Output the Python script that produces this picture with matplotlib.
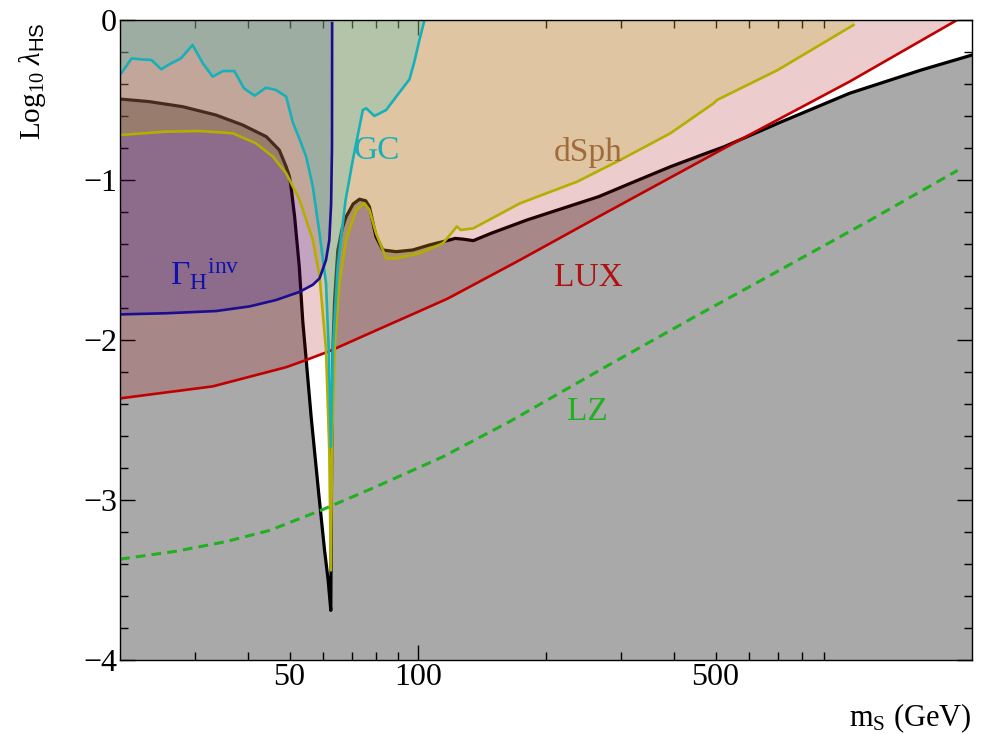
import numpy as np
import matplotlib
matplotlib.use("Agg")
import matplotlib.pyplot as plt
from matplotlib.ticker import FixedLocator, FixedFormatter, NullFormatter

# ---------------- data ----------------
# relic-density curve (black), gray region below it
relic_m = [20, 23.4, 28.1, 33.6, 38.8, 44.1, 47.3, 49.1, 50.0, 50.4, 51.4, 52.7, 53.7,
           54.7, 56.2, 58.5, 60.4, 61.6, 62.5, 62.6, 62.8, 63.2, 63.8, 64.9, 66.5, 67.9,
           70.5, 73.0, 75.5, 77.0, 79.8, 82.8, 89.0, 97.3, 106.5, 118.7, 122.4, 128.0,
           135.0, 148.7, 180.4, 219.0, 265.9, 322.7, 391.7, 475.3, 523.7, 700.0, 1032.0,
           1520.0, 2000.0]
relic_y = [-0.494, -0.51, -0.542, -0.594, -0.656, -0.729, -0.8125, -0.917, -0.98, -1.04,
           -1.23, -1.54, -1.88, -2.12, -2.48, -2.95, -3.31, -3.50, -3.69, -3.3, -2.69,
           -2.06, -1.75, -1.44, -1.30, -1.23, -1.15, -1.12, -1.13, -1.167, -1.354,
           -1.4375, -1.448, -1.4375, -1.406, -1.375, -1.365, -1.37, -1.379, -1.333,
           -1.25, -1.177, -1.104, -1.01, -0.917, -0.833, -0.792, -0.646, -0.458,
           -0.3125, -0.219]

# LUX (red)
lux_m = [20, 33.0, 49.1, 54.7, 62.0, 79.8, 100.9, 117.8, 173.7, 265.9, 523.7, 1032.0, 1845.0]
lux_y = [-2.365, -2.29, -2.17, -2.125, -2.07, -1.94, -1.82, -1.74, -1.5, -1.229, -0.802,
         -0.385, 0.0]

# LZ projection (green dashed)
lz_m = [20, 27.1, 35.5, 44.9, 59.8, 79.8, 114.5, 164.3, 272.0, 440.0, 700.0, 1137.0, 1850.0]
lz_y = [-3.37, -3.32, -3.26, -3.19, -3.06, -2.917, -2.73, -2.51, -2.177, -1.865, -1.57,
        -1.26, -0.94]

# dwarf spheroidals (yellow)
ds_m = [20, 25.6, 30.7, 36.8, 41.7, 45.7, 49.1, 52.8, 56.7, 58.8, 60.9, 62.0, 62.5, 63.0,
        63.8, 65.5, 67.9, 71.7, 75.0, 77.0, 79.8, 84.3, 89.0, 100.9, 114.5, 123.6, 126.2,
        135.0, 173.7, 236.9, 298.6, 391.7, 494.6, 504.0, 700.0, 1054.0]
ds_y = [-0.719, -0.698, -0.694, -0.708, -0.771, -0.854, -0.958, -1.125, -1.375, -1.6,
        -2.06, -2.7, -3.44, -2.6, -2.06, -1.646, -1.375, -1.1875, -1.146, -1.1875, -1.333,
        -1.49, -1.49, -1.458, -1.396, -1.29, -1.3125, -1.302, -1.146, -1.01, -0.875,
        -0.708, -0.521, -0.5, -0.3125, -0.031]

# Galactic centre (cyan)
gc_m = [20, 21.3, 22.4, 23.7, 25.0, 26.2, 27.8, 29.6, 31.3, 33.0, 34.9, 37.1, 39.1, 41.4,
        44.0, 46.5, 49.1, 50.9, 52.7, 54.7, 56.7, 58.8, 60.9, 61.8, 62.5, 63.2, 64.9,
        67.7, 70.4, 74.3, 75.7, 79.1, 84.3, 89.0, 95.6, 98.2, 100.9, 103.7]
gc_y = [-0.344, -0.24, -0.246, -0.25, -0.308, -0.275, -0.24, -0.156, -0.271, -0.354,
        -0.319, -0.319, -0.427, -0.473, -0.423, -0.4375, -0.479, -0.64, -0.74, -0.854,
        -1.04, -1.333, -1.646, -2.06, -2.667, -2.06, -1.54, -1.125, -0.875, -0.5625,
        -0.552, -0.6, -0.5625, -0.479, -0.371, -0.26, -0.125, 0.0]

# invisible Higgs width (blue)
gam_m = [20, 25.6, 33.6, 40.3, 46.5, 52.7, 56.7, 58.8, 60.9, 62.0, 62.6, 62.9, 62.95]
gam_y = [-1.84, -1.833, -1.819, -1.79, -1.75, -1.70, -1.655, -1.615, -1.5, -1.375, -1.15,
         -0.8, -0.02]

x_major = [100]
x_minor = [30, 40, 50, 60, 70, 80, 90, 200, 300, 400, 500, 600, 700, 800, 900]
x_minor_labels = ["", "", "50", "", "", "", "", "", "", "", "500", "", "", "", ""]
y_major = [0, -1, -2, -3, -4]
y_major_labels = ["0", "\u22121", "\u22122", "\u22123", "\u22124"]
y_minor = [-0.2, -0.4, -0.6, -0.8, -1.2, -1.4, -1.6, -1.8, -2.2, -2.4, -2.6, -2.8,
           -3.2, -3.4, -3.6, -3.8]

# ---------------- figure ----------------
plt.rcParams['font.family'] = ['Liberation Serif', 'DejaVu Serif']
plt.rcParams['mathtext.fontset'] = 'custom'
plt.rcParams['mathtext.rm'] = 'Liberation Serif'
plt.rcParams['mathtext.it'] = 'Liberation Serif:italic'
plt.rcParams['mathtext.bf'] = 'Liberation Serif:bold'
plt.rcParams['mathtext.sf'] = 'Liberation Sans'

fig = plt.figure(figsize=(9.82, 7.34), dpi=100)
ax = fig.add_axes([120 / 982, 1 - 660 / 734, 852 / 982, 640 / 734])
ax.set_xscale('log')
ax.set_xlim(20, 2000)
ax.set_ylim(-4, 0)

# gray region below relic curve
ax.fill_between(relic_m, -4, relic_y, color='#a9a9a9', lw=0, zorder=1)
ax.plot(relic_m, relic_y, color='black', lw=2.3, zorder=2)

# translucent exclusion fills
ax.fill_between(lux_m, lux_y, 0, color=(160/255, 0, 0), alpha=0.2, lw=0, zorder=3)
ax.fill_between(gam_m, gam_y, 0, color=(36/255, 2/255, 152/255), alpha=0.2, lw=0, zorder=4)
ax.fill_between(ds_m, ds_y, 0, color=(188/255, 178/255, 34/255), alpha=0.25, lw=0, zorder=5)
ax.fill_between(gc_m, gc_y, 0, color=(52/255, 196/255, 192/255), alpha=0.25, lw=0, zorder=6)

# boundary lines
ax.plot(lux_m, lux_y, color='#c00000', lw=1.9, zorder=7)
ax.plot(ds_m, ds_y, color='#b4ae00', lw=1.9, zorder=7)
ax.plot(gc_m, gc_y, color='#18b0b8', lw=1.9, zorder=8)
ax.plot(gam_m, gam_y, color='#1c0c90', lw=1.9, zorder=8)
ax.plot(lz_m, lz_y, color='#20b020', lw=2.2, ls=(0, (3.2, 2.0)), zorder=8)

# labels inside the plot
ax.text(80.0, -0.82, 'GC', color='#18b0b8', fontsize=24, ha='center', va='center', zorder=9)
ax.text(251, -0.83, 'dSph', color='#a06a3a', fontsize=24, ha='center', va='center', zorder=9)
ax.text(251, -1.61, 'LUX', color='#b01010', fontsize=24, ha='center', va='center', zorder=9)
ax.text(250, -2.45, 'LZ', color='#20b020', fontsize=24, ha='center', va='center', zorder=9)
ax.text(31.6, -1.59, r'$\Gamma_{\mathrm{H}}{}^{\mathrm{inv}}$', color='#1010b0',
        fontsize=24, ha='center', va='center', zorder=9)

# ticks
ax.xaxis.set_major_locator(FixedLocator(x_major))
ax.xaxis.set_major_formatter(FixedFormatter(["100"]))
ax.xaxis.set_minor_locator(FixedLocator(x_minor))
ax.xaxis.set_minor_formatter(FixedFormatter(x_minor_labels))
ax.yaxis.set_major_locator(FixedLocator(y_major))
ax.yaxis.set_major_formatter(FixedFormatter(y_major_labels))
ax.yaxis.set_minor_locator(FixedLocator(y_minor))
ax.yaxis.set_minor_formatter(NullFormatter())

ax.tick_params(which='both', direction='in', top=True, right=True, labelsize=23,
               colors='black', width=1.0)
ax.tick_params(axis='x', which='major', length=11, pad=2)
ax.tick_params(axis='x', which='minor', length=5.5, pad=2)
ax.tick_params(axis='y', which='major', length=11, pad=2)
ax.tick_params(axis='y', which='minor', length=5.5, pad=2)
for s in ax.spines.values():
    s.set_linewidth(1.0)
    s.set_zorder(10)

fig.text(972 / 982, 1 - 718 / 734, r'm$_{\mathrm{S}}$ (GeV)', fontsize=22,
         ha='right', va='center')
fig.text(33 / 982, 1 - 22 / 734, r'Log$_{10}$ $\lambda_{\mathsf{HS}}$', fontsize=21,
         rotation=90, ha='center', va='top')

fig.savefig('out.png', dpi=100)
